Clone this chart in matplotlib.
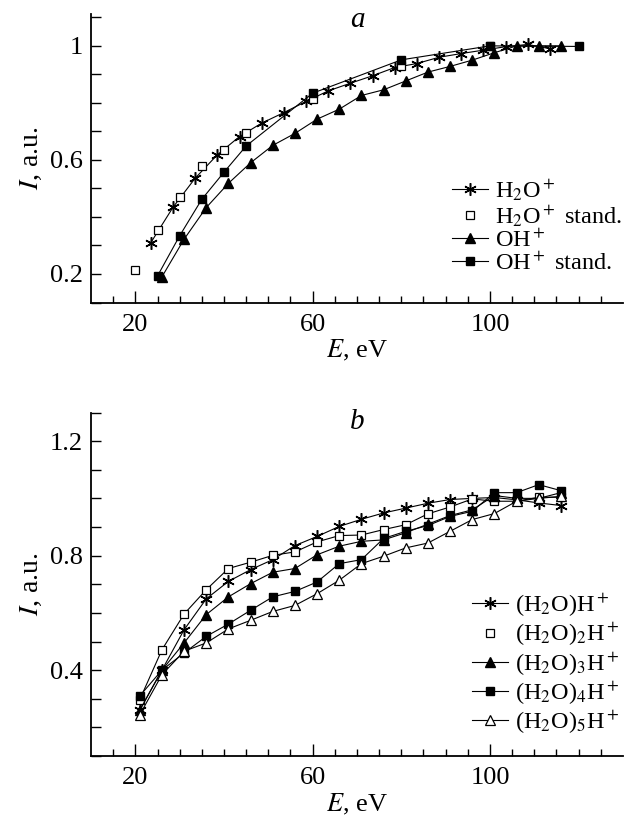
import matplotlib
matplotlib.use("Agg")
from matplotlib import pyplot as plt
from matplotlib.ticker import MultipleLocator, FixedLocator, FuncFormatter
from matplotlib.lines import Line2D

plt.rcParams['font.family'] = ['Liberation Serif', 'DejaVu Serif']
plt.rcParams['mathtext.fontset'] = 'stix'

# Panel a: H2O+ and OH+ ion yields vs electron energy
h2o_e = [23.5, 28.5, 33.5, 38.5, 43.5, 48.5, 53.5, 58.5, 63.5, 68.5,
         73.5, 78.5, 83.5, 88.5, 93.5, 98.5, 103.5, 108.5, 113.5]
h2o_i = [0.31, 0.434, 0.536, 0.618, 0.682, 0.729, 0.766, 0.805, 0.842, 0.869,
         0.895, 0.924, 0.938, 0.96, 0.973, 0.985, 0.997, 1.005, 0.99]

h2o_std_e = [20, 25, 30, 35, 40, 45, 60, 80, 100]
h2o_std_i = [0.214, 0.354, 0.471, 0.58, 0.635, 0.696, 0.815, 0.928, 0.998]

oh_e = [26, 31, 36, 41, 46, 51, 56, 61, 66, 71, 76, 81, 86, 91, 96, 101, 106, 111, 116]
oh_i = [0.19, 0.322, 0.433, 0.518, 0.59, 0.651, 0.693, 0.743, 0.778, 0.826,
        0.846, 0.877, 0.908, 0.928, 0.95, 0.976, 1.0, 1.0, 1.0]

oh_std_e = [25, 30, 35, 40, 45, 60, 80, 100, 120]
oh_std_i = [0.193, 0.334, 0.462, 0.557, 0.649, 0.834, 0.951, 1.0, 0.998]

# Panel b: protonated water clusters
clu_e = [21, 26, 31, 36, 41, 46, 51, 56, 61, 66, 71, 76, 81, 86, 91, 96, 101, 106, 111, 116]
clu1_i = [0.26, 0.40, 0.541, 0.649, 0.71, 0.751, 0.786, 0.835, 0.867, 0.902,
          0.927, 0.949, 0.966, 0.983, 0.996, 1.0, 1.003, 0.995, 0.984, 0.975]
clu2_i = [0.297, 0.471, 0.596, 0.681, 0.755, 0.777, 0.801, 0.813, 0.848, 0.87,
          0.872, 0.891, 0.908, 0.946, 0.97, 0.998, 0.99, 0.99, 1.004, 1.004]
clu3_i = [0.26, 0.40, 0.495, 0.594, 0.656, 0.702, 0.742, 0.755, 0.803, 0.833,
          0.85, 0.855, 0.88, 0.91, 0.94, 0.96, 1.01, 1.0, 1.0, 1.02]
clu4_i = [0.31, 0.40, 0.46, 0.518, 0.561, 0.609, 0.656, 0.675, 0.708, 0.772,
          0.786, 0.86, 0.885, 0.905, 0.937, 0.955, 1.02, 1.02, 1.048, 1.027]
clu5_i = [0.244, 0.384, 0.466, 0.495, 0.544, 0.574, 0.605, 0.626, 0.667, 0.714,
          0.772, 0.798, 0.827, 0.844, 0.885, 0.926, 0.947, 0.99, 1.0, 1.007]

labels_a = [r'H$_2$O$^+$', r'H$_2$O$^+$ stand.', r'OH$^+$', r'OH$^+$ stand.']
labels_b = [r'(H$_2$O)H$^+$', r'(H$_2$O)$_2$H$^+$', r'(H$_2$O)$_3$H$^+$',
            r'(H$_2$O)$_4$H$^+$', r'(H$_2$O)$_5$H$^+$']

W, H = 625, 817
fig = plt.figure(figsize=(W / 100, H / 100), dpi=100)

ax_a = fig.add_axes([91 / W, (H - 302.5) / H, 532 / W, 288 / H])
ax_b = fig.add_axes([91 / W, 61 / H, 532 / W, 343.5 / H])

star = (6, 2, 0)
lw = 0.8
st = dict(color='black', lw=lw, mec='black')

# panel a
ax_a.plot(h2o_e, h2o_i, marker=star, ms=9, mew=1.1, **st)
ax_a.plot(h2o_std_e, h2o_std_i, ls='none', marker='s', ms=5.5, mfc='white', mec='black', mew=0.9)
ax_a.plot(oh_e, oh_i, marker='^', ms=6.5, mfc='black', **st)
ax_a.plot(oh_std_e, oh_std_i, marker='s', ms=6, mfc='black', **st)

# panel b
ax_b.plot(clu_e, clu1_i, marker=star, ms=9, mew=1.1, **st)
ax_b.plot(clu_e, clu2_i, marker='s', ms=5.5, mfc='white', mew=0.9, **st)
ax_b.plot(clu_e, clu3_i, marker='^', ms=6.5, mfc='black', **st)
ax_b.plot(clu_e, clu4_i, marker='s', ms=6, mfc='black', **st)
ax_b.plot(clu_e, clu5_i, marker='^', ms=6.5, mfc='white', mew=0.9, **st)


def fmt(v, pos):
    return ('%.1f' % v).rstrip('0').rstrip('.')


for ax, ylim, ylabs in [(ax_a, (0.1, 1.11), [0.2, 0.6, 1.0]),
                        (ax_b, (0.1, 1.3), [0.4, 0.8, 1.2])]:
    ax.set_xlim(10, 130)
    ax.set_ylim(*ylim)
    for s in ['top', 'right']:
        ax.spines[s].set_visible(False)
    for s in ['left', 'bottom']:
        ax.spines[s].set_linewidth(1.3)
    ax.xaxis.set_major_locator(FixedLocator([20, 60, 100]))
    ax.xaxis.set_minor_locator(FixedLocator([v for v in range(15, 130, 5) if v % 40 != 20]))
    ax.yaxis.set_major_locator(FixedLocator(ylabs))
    ax.yaxis.set_minor_locator(MultipleLocator(0.1))
    ax.yaxis.set_major_formatter(FuncFormatter(fmt))
    ax.tick_params(axis='both', which='both', direction='in', width=1.0, labelsize=19)
    ax.tick_params(axis='x', which='major', length=9, pad=8)
    ax.tick_params(axis='x', which='minor', length=5)
    ax.tick_params(axis='y', which='both', length=7.5, pad=6)
    ax.set_xlabel(r'$E$, eV', fontsize=19, labelpad=2)
    ax.set_ylabel(r'$I$, a.u.', fontsize=20, labelpad=4)

ax_a.text(0.5, 0.981, 'a', transform=ax_a.transAxes, ha='center', va='center',
          fontsize=21, style='italic')
ax_b.text(0.5, 0.972, 'b', transform=ax_b.transAxes, ha='center', va='center',
          fontsize=21, style='italic')

ax_a.legend(labels_a, loc='center left', bbox_to_anchor=(452 / W, 1 - 226 / H),
            bbox_transform=fig.transFigure, frameon=False, fontsize=17.5,
            handlelength=1.5, handletextpad=0.25, labelspacing=0.02,
            borderpad=0, borderaxespad=0)

handles_b = [Line2D([], [], marker=star, ms=9, mew=1.1, **st),
             Line2D([], [], ls='none', marker='s', ms=5.5, mfc='white', mec='black', mew=0.9),
             Line2D([], [], marker='^', ms=6.5, mfc='black', **st),
             Line2D([], [], marker='s', ms=6, mfc='black', **st),
             Line2D([], [], marker='^', ms=6.5, mfc='white', mew=0.9, **st)]
ax_b.legend(handles_b, labels_b, loc='center left', bbox_to_anchor=(472 / W, 1 - 664 / H),
            bbox_transform=fig.transFigure, frameon=False, fontsize=17.5,
            handlelength=1.5, handletextpad=0.25, labelspacing=0.08,
            borderpad=0, borderaxespad=0)

fig.savefig('out.png', dpi=100)
